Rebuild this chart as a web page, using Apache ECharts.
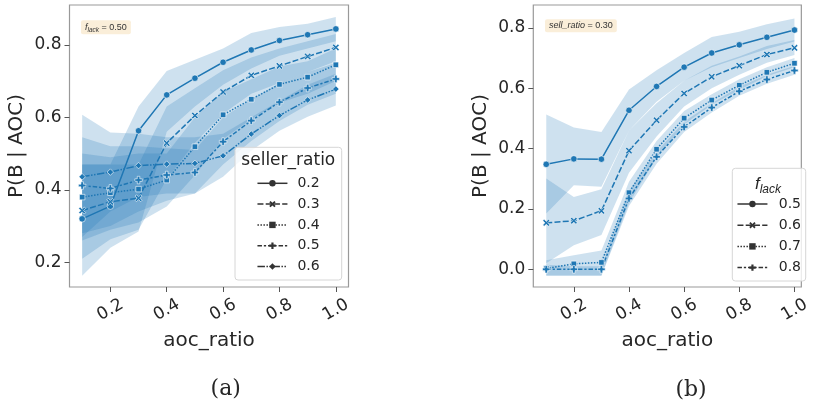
<!DOCTYPE html>
<html><head><meta charset="utf-8">
<script src="https://cdn.jsdelivr.net/npm/echarts@6/dist/echarts.min.js"></script>
<style>html,body{margin:0;padding:0;background:#fff}#c{width:813px;height:406px}</style>
</head><body><div id="c"></div>
<script>
// ---------- data ----------
const aocRatio = [0.1, 0.2, 0.3, 0.4, 0.5, 0.6, 0.7, 0.8, 0.9, 1.0];
const xTicks = [0.2, 0.4, 0.6, 0.8, 1.0];
const yTicksA = [0.2, 0.4, 0.6, 0.8];
const yTicksB = [0.0, 0.2, 0.4, 0.6, 0.8];

// panel (a): f_lack = 0.50, style = seller_ratio
const sellerRatios = ['0.2', '0.3', '0.4', '0.5', '0.6'];
const meanA02 = [0.320, 0.355, 0.563, 0.662, 0.708, 0.752, 0.786, 0.812, 0.828, 0.844];
const loA02   = [0.163, 0.240, 0.285, 0.560, 0.630, 0.690, 0.735, 0.770, 0.790, 0.810];
const hiA02   = [0.470, 0.470, 0.630, 0.728, 0.759, 0.790, 0.833, 0.849, 0.858, 0.877];
const meanA03 = [0.343, 0.367, 0.377, 0.529, 0.605, 0.670, 0.716, 0.742, 0.768, 0.793];
const loA03   = [0.210, 0.264, 0.290, 0.430, 0.530, 0.610, 0.665, 0.695, 0.725, 0.755];
const hiA03   = [0.470, 0.470, 0.470, 0.630, 0.680, 0.730, 0.765, 0.790, 0.810, 0.830];
const meanA04 = [0.380, 0.392, 0.402, 0.427, 0.519, 0.607, 0.650, 0.691, 0.711, 0.745];
const loA04   = [0.260, 0.290, 0.310, 0.354, 0.440, 0.540, 0.595, 0.640, 0.665, 0.700];
const hiA04   = [0.500, 0.490, 0.500, 0.500, 0.600, 0.670, 0.705, 0.740, 0.755, 0.790];
const meanA05 = [0.412, 0.404, 0.427, 0.441, 0.448, 0.533, 0.591, 0.642, 0.681, 0.706];
const loA05   = [0.280, 0.300, 0.340, 0.370, 0.390, 0.470, 0.535, 0.590, 0.635, 0.665];
const hiA05   = [0.545, 0.520, 0.520, 0.515, 0.510, 0.600, 0.650, 0.695, 0.725, 0.750];
const meanA06 = [0.436, 0.449, 0.467, 0.471, 0.473, 0.494, 0.554, 0.605, 0.648, 0.678];
const loA06   = [0.270, 0.340, 0.380, 0.390, 0.390, 0.436, 0.508, 0.563, 0.602, 0.633];
const hiA06   = [0.607, 0.558, 0.555, 0.545, 0.545, 0.555, 0.600, 0.645, 0.690, 0.720];

// panel (b): sell_ratio = 0.30, style = f_lack
const fLacks = ['0.5', '0.6', '0.7', '0.8'];
const meanB05 = [0.348, 0.366, 0.365, 0.527, 0.606, 0.670, 0.717, 0.744, 0.769, 0.793];
const loB05   = [0.185, 0.279, 0.274, 0.460, 0.555, 0.625, 0.670, 0.700, 0.730, 0.755];
const hiB05   = [0.513, 0.470, 0.455, 0.596, 0.660, 0.717, 0.770, 0.787, 0.812, 0.831];
const meanB06 = [0.154, 0.161, 0.194, 0.393, 0.494, 0.583, 0.638, 0.675, 0.712, 0.734];
const loB06   = [0.020, 0.080, 0.114, 0.320, 0.440, 0.540, 0.600, 0.645, 0.685, 0.710];
const hiB06   = [0.301, 0.240, 0.265, 0.460, 0.550, 0.625, 0.675, 0.705, 0.740, 0.760];
const meanB07 = [0.003, 0.018, 0.023, 0.254, 0.398, 0.501, 0.561, 0.610, 0.653, 0.683];
const loB07   = [-0.020, -0.020, -0.020, 0.220, 0.370, 0.480, 0.545, 0.595, 0.640, 0.670];
const hiB07   = [0.030, 0.047, 0.062, 0.290, 0.425, 0.525, 0.580, 0.630, 0.670, 0.700];
const meanB08 = [0.000, 0.000, 0.000, 0.235, 0.373, 0.472, 0.536, 0.590, 0.629, 0.659];
const loB08   = [-0.022, -0.022, -0.022, 0.210, 0.350, 0.455, 0.520, 0.575, 0.615, 0.645];
const hiB08   = [0.015, 0.010, 0.010, 0.260, 0.390, 0.490, 0.550, 0.605, 0.645, 0.675];

// ---------- styles ----------
const BLUE = '#1f77b4';
const BAND = 'rgba(31,119,180,0.22)';
const TXT = '#262626';
const FONT = 'DejaVu Sans';
const dashes = ['solid', [6, 2.25], [1.5, 1.5], [4.5, 1.9, 2.25, 1.9], [7.5, 1.5, 1.5, 1.5, 1.5, 1.5]];
const X_PATH = 'path://M2,0L5,3L8,0L10,2L7,5L10,8L8,10L5,7L2,10L0,8L3,5L0,2Z';
const P_PATH = 'path://M3.3,0H6.7V3.3H10V6.7H6.7V10H3.3V6.7H0V3.3H3.3Z';
const symbols = ['circle', X_PATH, 'rect', P_PATH, 'diamond'];
const symSizes = [6.5, 7, 5.5, 7.5, 6.5];

function bandSeries(ax, lo, hi) {
  return {
    type: 'custom', xAxisIndex: ax, yAxisIndex: ax, silent: true, z: 1,
    data: aocRatio.map((x, i) => [x, lo[i], hi[i]]),
    encode: { x: 0, y: [1, 2] },
    renderItem: function (params, api) {
      if (params.dataIndexInside !== 0) return null;
      const n = params.dataInsideLength;
      const pts = [];
      for (let i = 0; i < n; i++) pts.push(api.coord([api.value(0, i), api.value(2, i)]));
      for (let i = n - 1; i >= 0; i--) pts.push(api.coord([api.value(0, i), api.value(1, i)]));
      return { type: 'polygon', shape: { points: pts }, style: { fill: BAND } };
    }
  };
}
function lineSeries(ax, name, mean, k) {
  return {
    type: 'line', name: name, xAxisIndex: ax, yAxisIndex: ax, z: 3,
    data: aocRatio.map((x, i) => [x, mean[i]]),
    symbol: symbols[k], symbolSize: symSizes[k], showAllSymbol: true,
    lineStyle: { color: BLUE, width: 1.5, type: dashes[k] },
    itemStyle: { color: BLUE, borderColor: '#fff', borderWidth: 0.6 },
    emphasis: { disabled: true }
  };
}

const meansA = [meanA02, meanA03, meanA04, meanA05, meanA06];
const losA = [loA02, loA03, loA04, loA05, loA06];
const hisA = [hiA02, hiA03, hiA04, hiA05, hiA06];
const meansB = [meanB05, meanB06, meanB07, meanB08];
const losB = [loB05, loB06, loB07, loB08];
const hisB = [hiB05, hiB06, hiB07, hiB08];

const series = [];
sellerRatios.forEach((s, k) => series.push(bandSeries(0, losA[k], hisA[k])));
fLacks.forEach((s, k) => series.push(bandSeries(1, losB[k], hisB[k])));
sellerRatios.forEach((s, k) => series.push(lineSeries(0, 'a' + s, meansA[k], k)));
fLacks.forEach((s, k) => series.push(lineSeries(1, 'b' + s, meansB[k], k)));

function xAxis(grid, min, max) {
  return {
    type: 'value', gridIndex: grid, min: min, max: max,
    axisLine: { show: false, onZero: false },
    splitLine: { show: false },
    axisTick: { show: true, customValues: xTicks, length: 5, lineStyle: { color: '#555', width: 1 } },
    axisLabel: { customValues: xTicks, rotate: 30, align: 'center', verticalAlign: 'middle', margin: 23,
      fontSize: 17, color: TXT, fontFamily: FONT, formatter: v => v.toFixed(1) },
    name: 'aoc_ratio', nameLocation: 'middle', nameGap: 41,
    nameTextStyle: { fontSize: 20, color: TXT, fontFamily: FONT, verticalAlign: 'top' }
  };
}
function yAxis(grid, min, max, ticks) {
  return {
    type: 'value', gridIndex: grid, min: min, max: max,
    axisLine: { show: false, onZero: false },
    splitLine: { show: false },
    axisTick: { show: true, customValues: ticks, length: 5, lineStyle: { color: '#555', width: 1 } },
    axisLabel: { customValues: ticks, margin: 8, fontSize: 17, color: TXT, fontFamily: FONT, formatter: v => v.toFixed(1) },
    name: 'P(B | AOC)', nameLocation: 'middle', nameGap: 43, nameRotate: 90,
    nameTextStyle: { fontSize: 20, color: TXT, fontFamily: FONT }
  };
}
function legend(prefix, names, left, top, gap, pad) {
  return {
    data: names.map((s, k) => ({
      name: prefix + s,
      itemStyle: { color: '#333', borderWidth: 0 },
      lineStyle: { color: '#333', width: 1.5, type: dashes[k] }
    })),
    formatter: n => n.slice(1),
    orient: 'vertical', left: left, top: top, padding: 0, z: 12,
    itemWidth: 30, itemHeight: 8, itemGap: gap, selectedMode: false,
    textStyle: { fontSize: 14, color: TXT, fontFamily: FONT, lineHeight: 16, padding: [0, 0, 0, pad] }
  };
}

const option = {
  animation: false,
  textStyle: { fontFamily: FONT },
  grid: [
    { left: 69.5, top: 5, width: 279, height: 282, show: true, borderColor: '#999', borderWidth: 1.2, backgroundColor: 'transparent' },
    { left: 533.3, top: 5, width: 273.5, height: 282, show: true, borderColor: '#999', borderWidth: 1.2, backgroundColor: 'transparent' }
  ],
  xAxis: [xAxis(0, 0.055, 1.045), xAxis(1, 0.053, 1.025)],
  yAxis: [yAxis(0, 0.132, 0.91, yTicksA), yAxis(1, -0.0586, 0.876, yTicksB)],
  legend: [legend('a', sellerRatios, 256.7, 175.3, 4.8, 5), legend('b', fLacks, 736.7, 196, 5.2, 6.3)],
  graphic: [
    { type: 'rect', z: 10, shape: { x: 235, y: 147.3, width: 106.7, height: 132.7, r: 3 },
      style: { fill: 'rgba(255,255,255,0.8)', stroke: '#d6d6d6', lineWidth: 1 } },
    { type: 'text', z: 11, x: 288.3, y: 160.7,
      style: { text: 'seller_ratio', fontSize: 17, fill: TXT, fontFamily: FONT, align: 'center', verticalAlign: 'middle' } },
    { type: 'rect', z: 10, shape: { x: 732.3, y: 168.3, width: 73.4, height: 112.7, r: 3 },
      style: { fill: 'rgba(255,255,255,0.8)', stroke: '#d6d6d6', lineWidth: 1 } },
    { type: 'text', z: 11, x: 768, y: 184,
      style: { text: '{f|f}{s|lack}', fill: TXT, fontFamily: FONT, align: 'center', verticalAlign: 'middle',
        rich: { f: { fontSize: 17, fontStyle: 'italic', fill: TXT, lineHeight: 24, verticalAlign: 'middle' },
                s: { fontSize: 12, fontStyle: 'italic', fill: TXT, lineHeight: 24, verticalAlign: 'bottom' } } } },
    { type: 'text', z: 11, x: 81, y: 20.3,
      style: { text: '{f|f}{s|lack}{n| = 0.50}', fill: '#333', fontFamily: FONT, backgroundColor: '#faeed9',
        padding: [1, 4, 1, 4], borderRadius: 2,
        rich: { f: { fontSize: 9, fontStyle: 'italic', fill: '#333', lineHeight: 10, verticalAlign: 'middle' },
                s: { fontSize: 6.5, fontStyle: 'italic', fill: '#333', lineHeight: 12, verticalAlign: 'bottom' },
                n: { fontSize: 9, fill: '#333', lineHeight: 10, verticalAlign: 'middle' } } } },
    { type: 'text', z: 11, x: 545, y: 19.3,
      style: { text: '{i|sell_ratio}{n| = 0.30}', fill: '#333', fontFamily: FONT, backgroundColor: '#faeed9',
        padding: [1.5, 4, 1.5, 4], borderRadius: 2,
        rich: { i: { fontSize: 9, fontStyle: 'italic', fill: '#333', lineHeight: 10 },
                n: { fontSize: 9, fill: '#333', lineHeight: 10 } } } },
    { type: 'text', x: 225.7, y: 389,
      style: { text: '(a)', fontSize: 22, fill: TXT, fontFamily: 'DejaVu Serif', align: 'center', verticalAlign: 'middle' } },
    { type: 'text', x: 691, y: 390,
      style: { text: '(b)', fontSize: 22, fill: TXT, fontFamily: 'DejaVu Serif', align: 'center', verticalAlign: 'middle' } }
  ],
  series: series
};
const chart = echarts.init(document.getElementById('c'), null, { renderer: 'canvas' });
chart.setOption(option);
</script></body></html>
